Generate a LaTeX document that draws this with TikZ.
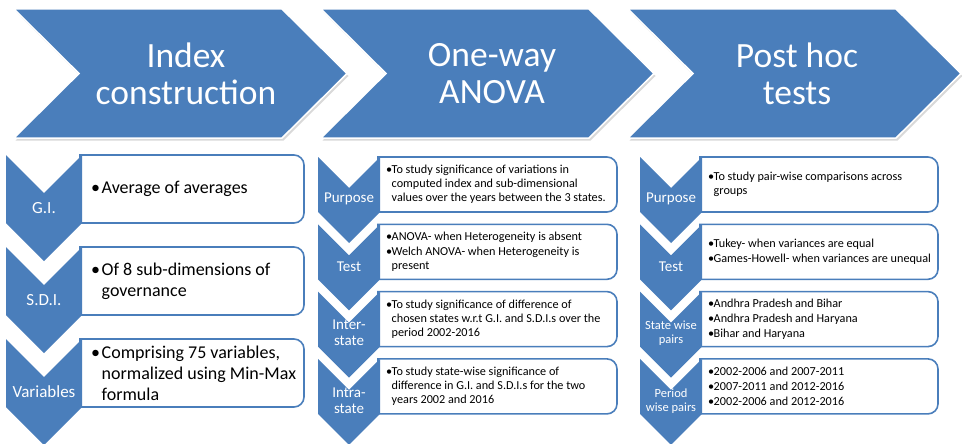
\documentclass[tikz,border=0pt]{standalone}
\usepackage{fontspec}
\setmainfont{Carlito}
\usetikzlibrary{shadows}
\definecolor{chevblue}{HTML}{4A7EBB}
\definecolor{boxblue}{HTML}{4A7EBB}
\tikzset{
  topchev/.style={fill=chevblue, draw=white, line width=1.5pt, line join=miter,
    drop shadow={shadow xshift=1.5pt, shadow yshift=-2.5pt, opacity=0.3}},
  downchev/.style={fill=chevblue},
  boxshape/.style={draw=boxblue, line width=1.6pt, fill=white},
  toptext/.style={text=white, align=center, font=\fontsize{35.5}{37}\selectfont, inner sep=0pt},
  labA/.style={text=white, align=center, font=\fontsize{17}{19}\selectfont, inner sep=0pt},
  labB/.style={text=white, align=center, font=\fontsize{15}{16}\selectfont, inner sep=0pt},
  labC/.style={text=white, align=center, font=\fontsize{12.5}{14}\selectfont, inner sep=0pt},
  txtA/.style={anchor=west, align=left, font=\fontsize{18}{21}\selectfont, inner sep=0pt},
  txtB/.style={anchor=west, align=left, font=\fontsize{12.2}{14}\selectfont, inner sep=0pt},
}
\newcommand\TopChev[1]{\path[topchev] (#1,9) -- ++(268,0) -- ++(65,64.5) -- ++(-65,64.5) -- ++(-268,0) -- ++(65,-64.5) -- cycle;}
\newcommand\DChev[4]{\fill[downchev] (#1,#2) -- ++(#3,#3) -- ++(#3,-#3) -- ++(0,#4) -- ++(-#3,#3) -- ++(-#3,-#3) -- cycle;}
\newcommand\RBox[4]{\draw[boxshape] (#1,#3) -- ({#2-10},#3) .. controls ({#2-4.5},#3) and (#2,{#3+4.5}) .. (#2,{#3+10}) -- (#2,{#3+#4-10}) .. controls (#2,{#3+#4-4.5}) and ({#2-4.5},{#3+#4}) .. ({#2-10},{#3+#4}) -- (#1,{#3+#4}) -- cycle;}
\newcommand\bA{\makebox[10.5pt][l]{•}}
\newcommand\iA{\hspace*{10.5pt}}
\newcommand\bB{\makebox[5.5pt][l]{•}}
\newcommand\iB{\hspace*{5.5pt}}
\begin{document}
\begin{tikzpicture}[x=1pt,y=-1pt]
\useasboundingbox (0,0) rectangle (962,444);
% top chevrons
\TopChev{14}
\TopChev{321}
\TopChev{628}
\node[toptext] (h1) at (186,73.5) {Index\\construction};
\node[toptext] (h2) at (492,73.5) {One-way\\ANOVA};
\node[toptext] (h3) at (797,73.5) {Post hoc\\tests};
% column 1
\RBox{80}{304}{155}{68}
\RBox{80}{304}{247}{68}
\RBox{80}{304}{339}{68}
\DChev{6}{155}{38}{68}
\DChev{6}{247}{38}{68}
\DChev{6}{339}{38}{68}
\node[labA] (a1) at (44,208) {G.I.};
\node[labA] (a2) at (44,300) {S.D.I.};
\node[labA] (a3) at (44,392) {Variables};
\node[txtA] (ta1) at (91,189) {\bA Average of averages};
\node[txtA] (ta2) at (91,281) {\bA Of 8 sub-dimensions of\\\iA governance};
\node[txtA] (ta3) at (91,373) {\bA Comprising 75 variables,\\\iA normalized using Min-Max\\\iA formula};
% column 2
\RBox{378}{617}{157}{55}
\RBox{378}{617}{224.3}{55}
\RBox{378}{617}{291.6}{55}
\RBox{378}{617}{358.9}{55}
\DChev{318}{157}{31}{55}
\DChev{318}{224.3}{31}{55}
\DChev{318}{291.6}{31}{55}
\DChev{318}{358.9}{31}{55}
\node[labB] (b1) at (349,199) {Purpose};
\node[labB] (b2) at (349,266.5) {Test};
\node[labB] (b3) at (349,333) {Inter-\\state};
\node[labB] (b4) at (349,400.5) {Intra-\\state};
\node[txtB] (tb1) at (386,184.5) {\bB To study significance of variations in\\\iB computed index and sub-dimensional\\\iB values over the years between the 3 states.};
\node[txtB] (tb2) at (386,251.8) {\bB ANOVA- when Heterogeneity is absent\\[1pt]\bB Welch ANOVA- when Heterogeneity is\\\iB present};
\node[txtB] (tb3) at (386,319.1) {\bB To study significance of difference of\\\iB chosen states w.r.t G.I. and S.D.I.s over the\\\iB period 2002-2016};
\node[txtB] (tb4) at (386,386.4) {\bB To study state-wise significance of\\\iB difference in G.I. and S.D.I.s for the two\\\iB years 2002 and 2016};
% column 3
\RBox{700}{938}{157}{55}
\RBox{700}{938}{224.3}{55}
\RBox{700}{938}{291.6}{55}
\RBox{700}{938}{358.9}{55}
\DChev{640}{157}{31}{55}
\DChev{640}{224.3}{31}{55}
\DChev{640}{291.6}{31}{55}
\DChev{640}{358.9}{31}{55}
\node[labB] (c1) at (671,199) {Purpose};
\node[labB] (c2) at (671,266.5) {Test};
\node[labC] (c3) at (671,333.5) {State wise\\pairs};
\node[labC] (c4) at (671,401) {Period\\wise pairs};
\node[txtB] (tc1) at (708,184.5) {\bB To study pair-wise comparisons across\\\iB groups};
\node[txtB] (tc2) at (708,251.8) {\bB Tukey- when variances are equal\\[1pt]\bB Games-Howell- when variances are unequal};
\node[txtB] (tc3) at (708,319.1) {\bB Andhra Pradesh and Bihar\\[1pt]\bB Andhra Pradesh and Haryana\\[1pt]\bB Bihar and Haryana};
\node[txtB] (tc4) at (708,386.4) {\bB 2002-2006 and 2007-2011\\[1pt]\bB 2007-2011 and 2012-2016\\[1pt]\bB 2002-2006 and 2012-2016};
\end{tikzpicture}
\end{document}
